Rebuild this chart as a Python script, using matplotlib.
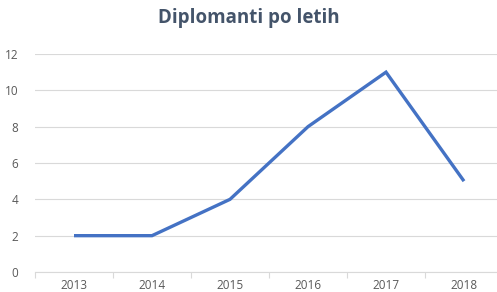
import matplotlib
matplotlib.use("Agg")
import matplotlib.pyplot as plt
import numpy as np

years = ["2013", "2014", "2015", "2016", "2017", "2018"]
graduates = [2, 2, 4, 8, 11, 5]
yticks = [0, 2, 4, 6, 8, 10, 12]

plt.rcParams['font.family'] = ['Open Sans', 'DejaVu Sans']

fig = plt.figure(figsize=(4.97, 2.92), dpi=100)
ax = fig.add_axes([35/497, 20/292, 468/497, 218/292])

x = np.arange(len(years))
ax.plot(x, graduates, color='#4472C4', linewidth=2.4, solid_joinstyle='miter', solid_capstyle='butt')

ax.set_xlim(-0.5, len(years) - 0.5)
ax.set_ylim(0, 12)
ax.set_yticks(yticks)
ax.set_yticklabels([str(v) for v in yticks])
ax.grid(axis='y', color='#D9D9D9', linewidth=0.8)
ax.set_axisbelow(True)

ax.set_xticks(np.arange(-0.5, len(years) + 0.5, 1.0))
ax.set_xticklabels([])
ax.set_xticks(x, minor=True)
ax.set_xticklabels(years, minor=True)
ax.tick_params(axis='x', which='major', length=4, color='#D9D9D9', width=0.8, direction='out')
ax.tick_params(axis='x', which='minor', length=0, pad=5, labelsize=8.5, labelcolor='#595959')
ax.tick_params(axis='y', length=0, pad=12, labelsize=8.5, labelcolor='#595959')

for s in ['top', 'right', 'left']:
    ax.spines[s].set_visible(False)
ax.spines['bottom'].set_color('#D9D9D9')
ax.spines['bottom'].set_linewidth(0.8)

fig.text(0.5, 1 - 18/292, "Diplomanti po letih", ha='center', va='center',
         fontsize=13.5, fontweight='bold', color='#44546A')

fig.savefig("out.png", dpi=100)
